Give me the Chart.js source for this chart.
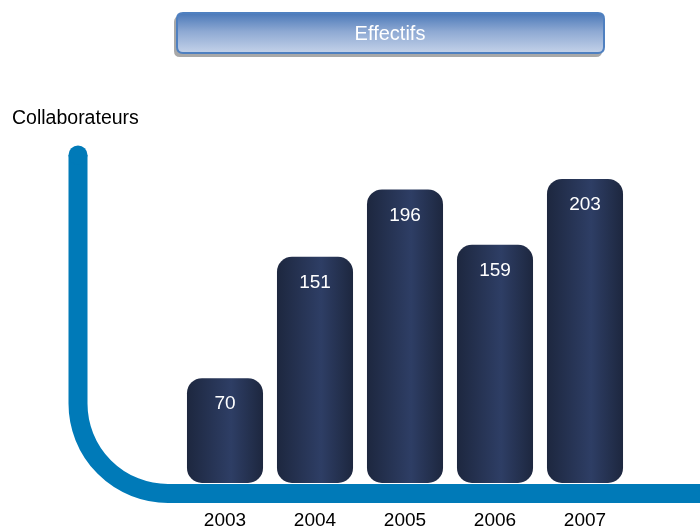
<!DOCTYPE html>
<html>
<head>
<meta charset="utf-8">
<script src="https://cdn.jsdelivr.net/npm/chart.js@4/dist/chart.umd.min.js"></script>
<style>
html,body{margin:0;padding:0;background:#fff;}
canvas{display:block;}
</style>
</head>
<body>
<canvas id="c" width="700" height="532"></canvas>
<script>
const categories = ['2003', '2004', '2005', '2006', '2007'];
const values = [70, 151, 196, 159, 203];
const titleText = 'Effectifs';
const axisTitle = 'Collaborateurs';

const FONT = "'Liberation Sans', Arial, sans-serif";

function barGradient(context) {
  const chart = context.chart;
  if (!chart.chartArea || !chart.scales.x) return '#27365a';
  const x = chart.scales.x.getPixelForValue(context.dataIndex);
  const half = 38;
  const g = chart.ctx.createLinearGradient(x - half, 0, x + half, 0);
  g.addColorStop(0, '#1d273f');
  g.addColorStop(0.58, '#2e3e65');
  g.addColorStop(1, '#1d273f');
  return g;
}

function roundRect(ctx, x, y, w, h, r) {
  ctx.beginPath();
  ctx.moveTo(x + r, y);
  ctx.lineTo(x + w - r, y);
  ctx.quadraticCurveTo(x + w, y, x + w, y + r);
  ctx.lineTo(x + w, y + h - r);
  ctx.quadraticCurveTo(x + w, y + h, x + w - r, y + h);
  ctx.lineTo(x + r, y + h);
  ctx.quadraticCurveTo(x, y + h, x, y + h - r);
  ctx.lineTo(x, y + r);
  ctx.quadraticCurveTo(x, y, x + r, y);
  ctx.closePath();
}

const decor = {
  id: 'decor',
  beforeDatasetsDraw(chart) {
    const ctx = chart.ctx;
    ctx.save();
    // Title box shadow
    ctx.fillStyle = '#a8a8a8';
    roundRect(ctx, 174, 16, 428, 41, 6);
    ctx.fill();
    // Title box
    const g = ctx.createLinearGradient(0, 13, 0, 54);
    g.addColorStop(0, '#4a78b8');
    g.addColorStop(0.45, '#8ea9d3');
    g.addColorStop(1, '#c6d4ea');
    ctx.fillStyle = g;
    roundRect(ctx, 177, 13, 427, 40, 6);
    ctx.fill();
    ctx.lineWidth = 2;
    ctx.strokeStyle = '#4f80c0';
    ctx.stroke();
    ctx.fillStyle = '#ffffff';
    ctx.font = '20px ' + FONT;
    ctx.textAlign = 'center';
    ctx.textBaseline = 'middle';
    ctx.fillText(titleText, 390, 34);

    // Axis title
    ctx.fillStyle = '#000000';
    ctx.font = '19.5px ' + FONT;
    ctx.textAlign = 'left';
    ctx.textBaseline = 'alphabetic';
    ctx.fillText(axisTitle, 12, 124);

    // Blue L-shaped axis
    ctx.strokeStyle = '#007ab8';
    ctx.lineWidth = 19;
    ctx.lineCap = 'butt';
    ctx.beginPath();
    ctx.moveTo(78, 155);
    ctx.lineTo(78, 403.5);
    ctx.arc(168, 403.5, 90, Math.PI, Math.PI / 2, true);
    ctx.lineTo(710, 493.5);
    ctx.stroke();
    // round top cap
    ctx.fillStyle = '#007ab8';
    ctx.beginPath();
    ctx.arc(78, 155, 9.5, 0, Math.PI * 2);
    ctx.fill();
    ctx.restore();
  },
  afterDatasetsDraw(chart) {
    const ctx = chart.ctx;
    const meta = chart.getDatasetMeta(0);
    const xs = chart.scales.x;
    ctx.save();
    ctx.font = '19px ' + FONT;
    ctx.textAlign = 'center';
    ctx.textBaseline = 'middle';
    meta.data.forEach((bar, i) => {
      ctx.fillStyle = '#ffffff';
      ctx.fillText(String(values[i]), bar.x, bar.y + 26);
    });
    ctx.fillStyle = '#000000';
    categories.forEach((c, i) => {
      ctx.fillText(c, xs.getPixelForValue(i), 521);
    });
    ctx.restore();
  }
};

new Chart(document.getElementById('c'), {
  type: 'bar',
  data: {
    labels: categories,
    datasets: [{
      data: values,
      backgroundColor: barGradient,
      borderRadius: { topLeft: 15, topRight: 15, bottomLeft: 15, bottomRight: 15 },
      borderSkipped: false,
      barPercentage: 0.845,
      categoryPercentage: 1.0
    }]
  },
  options: {
    responsive: false,
    animation: false,
    layout: { padding: { left: 180, right: 70, top: 140, bottom: 49 } },
    plugins: { legend: { display: false }, tooltip: { enabled: false }, title: { display: false } },
    scales: {
      x: { display: false },
      y: { display: false, min: 0, max: 229 }
    }
  },
  plugins: [decor]
});
</script>
</body>
</html>
